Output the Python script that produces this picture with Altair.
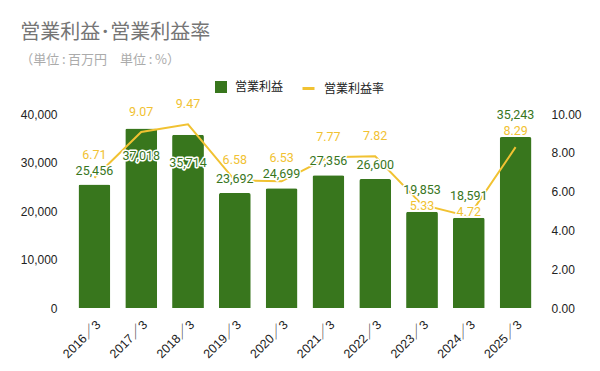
import altair as alt
import pandas as pd

years = ["2016／3", "2017／3", "2018／3", "2019／3", "2020／3",
         "2021／3", "2022／3", "2023／3", "2024／3", "2025／3"]
profit = [25456, 37018, 35714, 23692, 24699, 27356, 26600, 19853, 18591, 35243]
rate = [6.71, 9.07, 9.47, 6.58, 6.53, 7.77, 7.82, 5.33, 4.72, 8.29]

GREEN = "#38761d"
YELLOW = "#f1c232"
FONT = "Roboto, Noto Sans CJK JP, sans-serif"
AXFONT = "Liberation Sans, Arial, Noto Sans CJK JP, sans-serif"
CJK = "Noto Sans CJK JP, sans-serif"
W, H = 468, 194
LMAX, RMAX = 40000, 10

# label placement (pixel offsets from plot top), simple collision rule
rows = []
for yr, v, r in zip(years, profit, rate):
    b = H - v / LMAX * H
    p = H - r / RMAX * H
    by = b - 14
    ly = p - 20
    if abs(p - b) < 12 and b < 22:
        by = b + 28
    elif abs(by - ly) < 14:
        if by <= ly:
            by = by - 8
            ly = by + 16
        elif H - b < 100:
            ly = min(p + 2, b - 6)
            by = min(b - 22, ly - 16)
        else:
            ly = by - 16
    rows.append({
        "year": yr, "profit": v, "rate": r,
        "s_bar": "営業利益", "s_line": "営業利益率",
        "bar_y": (H - by) / H * LMAX,
        "line_y": (H - ly) / H * LMAX,
        "bar_txt": f"{v:,}", "line_txt": f"{r:.2f}",
    })
df = pd.DataFrame(rows)

xenc = alt.X("year:N", sort=years,
             scale=alt.Scale(paddingInner=0.32, paddingOuter=0.16),
             axis=alt.Axis(title=None, labelAngle=-45, domain=False, ticks=False,
                           labelFontSize=12.5, labelColor="#222222", labelPadding=10,
                           labelFont=AXFONT))
base = alt.Chart(df).encode(x=xenc)

bars = base.mark_bar(cornerRadiusTopLeft=2, cornerRadiusTopRight=2).encode(
    y=alt.Y("profit:Q", scale=alt.Scale(domain=[0, LMAX]),
            axis=alt.Axis(orient="left", title=None, values=[0, 10000, 20000, 30000, 40000],
                          labelExpr="format(datum.value, ',')",
                          grid=False, domain=False, ticks=False,
                          labelPadding=14, labelFontSize=12, labelColor="#222222",
                          labelFont=AXFONT)),
    fill=alt.Fill("s_bar:N", scale=alt.Scale(domain=["営業利益"], range=[GREEN]),
                  legend=alt.Legend(title=None, orient="none", legendX=144, legendY=-33,
                                    symbolType="square", symbolSize=144, labelFontSize=12,
                                    labelColor="#222222", labelFont=CJK, labelOffset=8,
                                    padding=0, symbolStrokeWidth=0)),
)

line = base.mark_line(strokeWidth=2).encode(
    y=alt.Y("rate:Q", scale=alt.Scale(domain=[0, RMAX]),
            axis=alt.Axis(orient="right", title=None, values=[0, 2, 4, 6, 8, 10],
                          labelExpr="format(datum.value, '.2f')",
                          grid=False, domain=False, ticks=False, labelAlign="left",
                          labelPadding=12, labelFontSize=12, labelColor="#222222",
                          labelFont=AXFONT)),
    stroke=alt.Stroke("s_line:N", scale=alt.Scale(domain=["営業利益率"], range=[YELLOW]),
                      legend=alt.Legend(title=None, orient="none", legendX=230, legendY=-33,
                                        symbolType="stroke", symbolSize=144,
                                        symbolStrokeWidth=3, labelFontSize=12,
                                        labelColor="#222222", labelFont=CJK,
                                        labelOffset=8, padding=0)),
)

def lab(field, txt, color, halo):
    kw = dict(fontSize=12.5, font=FONT, baseline="middle", align="center")
    if halo:
        m = base.mark_text(fill="white", stroke="white", strokeWidth=3,
                           strokeJoin="round", **kw)
    else:
        m = base.mark_text(fill=color, **kw)
    return m.encode(
        y=alt.Y(f"{field}:Q", scale=alt.Scale(domain=[0, LMAX]), axis=None),
        text=alt.Text(f"{txt}:N"),
    )

chart = alt.layer(
    bars, line,
    lab("bar_y", "bar_txt", GREEN, True),
    lab("line_y", "line_txt", YELLOW, True),
    lab("bar_y", "bar_txt", GREEN, False),
    lab("line_y", "line_txt", YELLOW, False),
).resolve_scale(y="independent", fill="independent", stroke="independent").properties(
    width=W, height=H,
    padding={"left": 12, "top": 15, "right": 5, "bottom": 0},
    background="white",
    title=alt.TitleParams(
        text="営業利益･営業利益率",
        subtitle="（単位\u2009:\u2009百万円\u2002\u2002単位\u2009:\u2009%）",
        anchor="start", frame="bounds",
        font=CJK, fontSize=20, fontWeight="normal", color="#757575",
        subtitleFont=CJK, subtitleFontSize=13, subtitleColor="#ababab",
        subtitlePadding=11, offset=14,
    ),
).configure_view(stroke=None)

chart.save("out.html", embed_options={"renderer": "svg", "actions": False})
